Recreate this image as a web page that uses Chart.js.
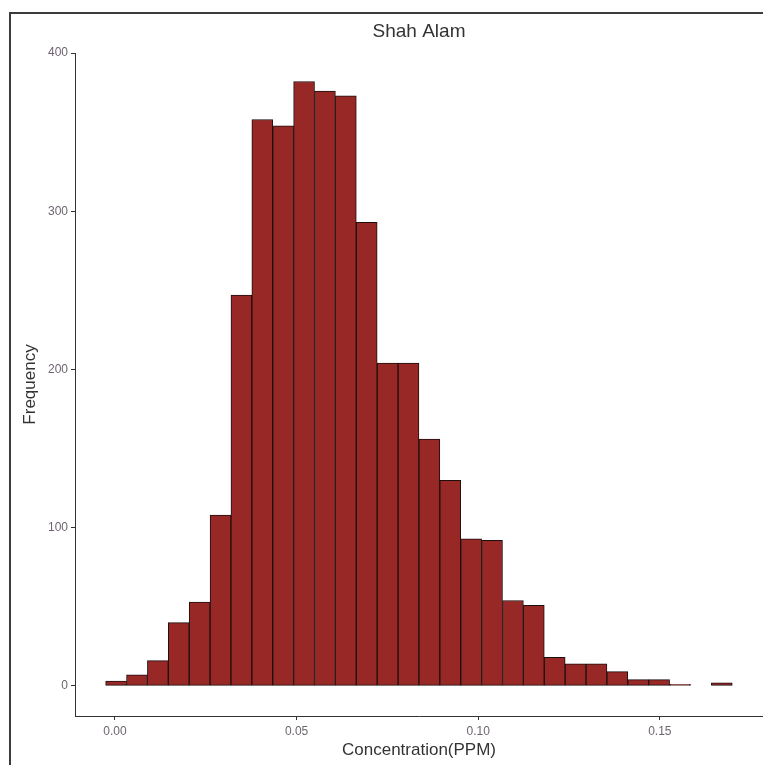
<!DOCTYPE html>
<html>
<head>
<meta charset="utf-8">
<title>Shah Alam</title>
<script src="https://cdn.jsdelivr.net/npm/chart.js@4.4.1/dist/chart.umd.min.js"></script>
<style>
    html, body { margin: 0; padding: 0; background: #fff; overflow: hidden; }
    #wrap { position: relative; width: 763px; height: 765px; }
    #frame {
        position: absolute; left: 9px; top: 12px; width: 820px; height: 820px;
        border-left: 2px solid #3c3c3c; border-top: 2px solid #3c3c3c;
        pointer-events: none;
    }
    canvas { position: absolute; left: 0; top: 0; }
</style>
</head>
<body>
<div id="wrap">
    <canvas id="histChart" width="763" height="765"></canvas>
    <div id="frame"></div>
</div>
<script>
// Histogram bins (centres, PPM) and counts per bin
var binCenters = [
    0.00031, 0.00606, 0.01181, 0.01756, 0.02331, 0.02906, 0.03481, 0.04056, 0.04631, 0.05206,
    0.05781, 0.06356, 0.06931, 0.07506, 0.08081, 0.08656, 0.09231, 0.09806, 0.10381, 0.10956,
    0.11531, 0.12106, 0.12681, 0.13256, 0.13831, 0.14406, 0.14981, 0.15556, 0.16131, 0.16706
];
var binCounts = [
    3, 7, 16, 40, 53, 108, 247, 358, 354, 382,
    376, 373, 293, 204, 204, 156, 130, 93, 92, 54,
    51, 18, 14, 14, 9, 4, 4, 1, 0, 2
];
var xTicks = [0, 0.05, 0.10, 0.15];
var yTicks = [0, 100, 200, 300, 400];

var FONT = '"Liberation Sans", Arial, sans-serif';
var AXIS = '#333333';
var TICK_TEXT = '#6e6470';

var points = binCenters.map(function (c, i) {
    return { x: c, y: binCounts[i] };
});

var ctx = document.getElementById('histChart').getContext('2d');

new Chart(ctx, {
    type: 'bar',
    data: {
        datasets: [{
            data: points,
            backgroundColor: '#972826',
            borderColor: '#1e0f0f',
            borderWidth: 1,
            borderSkipped: false,
            barPercentage: 1,
            categoryPercentage: 1
        }]
    },
    options: {
        responsive: false,
        animation: false,
        layout: { padding: 0 },
        plugins: {
            legend: { display: false },
            tooltip: { enabled: false },
            title: {
                display: true,
                text: 'Shah Alam',
                fullSize: false,
                color: '#333',
                font: { family: FONT, size: 19, weight: 'normal' },
                padding: { top: 20.6, bottom: 9.6 }
            }
        },
        scales: {
            x: {
                type: 'linear',
                offset: false,
                min: -0.011,
                max: 0.1784,
                afterFit: function (scale) { scale.height = 49; },
                afterBuildTicks: function (scale) {
                    scale.ticks = xTicks.map(function (v) { return { value: v }; });
                },
                border: { display: true, color: AXIS, width: 1 },
                grid: {
                    offset: false,
                    drawOnChartArea: false,
                    drawTicks: true,
                    tickLength: 4,
                    tickColor: AXIS
                },
                ticks: {
                    color: TICK_TEXT,
                    font: { family: FONT, size: 12 },
                    padding: 4.5,
                    maxRotation: 0,
                    callback: function (v) { return Number(v).toFixed(2); }
                },
                title: {
                    display: true,
                    text: 'Concentration(PPM)',
                    color: '#333',
                    font: { family: FONT, size: 17 },
                    padding: { top: 0, bottom: 4.8 }
                }
            },
            y: {
                min: -19,
                max: 400,
                afterFit: function (scale) { scale.width = 75; },
                afterBuildTicks: function (scale) {
                    scale.ticks = yTicks.map(function (v) { return { value: v }; });
                },
                border: { display: true, color: AXIS, width: 1 },
                grid: {
                    drawOnChartArea: false,
                    drawTicks: true,
                    tickLength: 4,
                    tickColor: AXIS
                },
                ticks: {
                    color: TICK_TEXT,
                    font: { family: FONT, size: 12 },
                    padding: 3
                },
                title: {
                    display: true,
                    text: 'Frequency',
                    color: '#333',
                    font: { family: FONT, size: 17 },
                    padding: { top: 19.8, bottom: 0 }
                }
            }
        }
    }
});
</script>
</body>
</html>
